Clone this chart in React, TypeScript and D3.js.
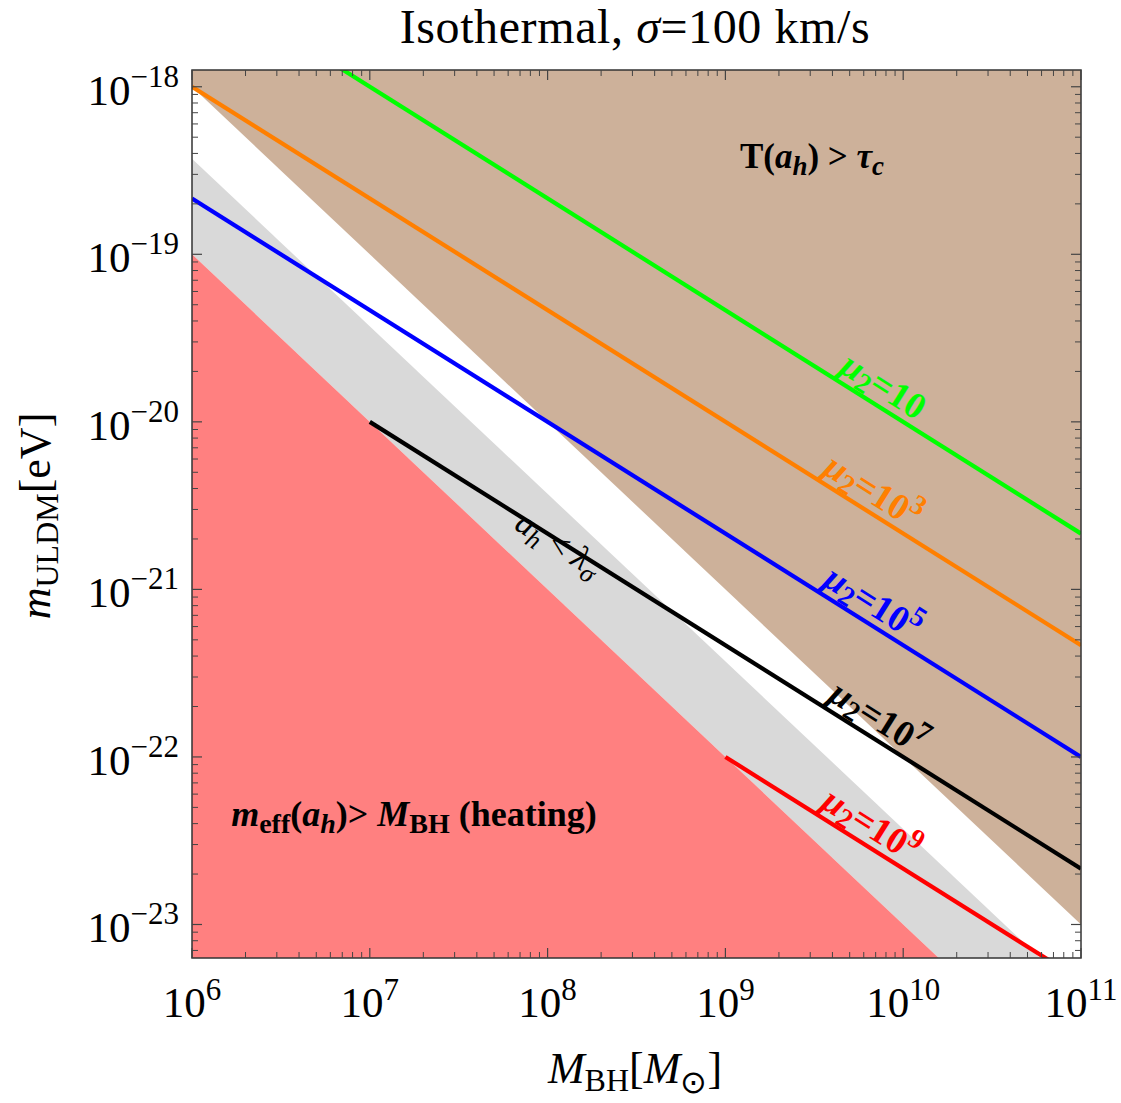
import React from "react";
import * as d3 from "d3";

// ---- data ----
const xDomain = [1e6, 1e11];
const yDomainLog = [-23.2, -17.9];
const xMajorExp = [6, 7, 8, 9, 10, 11];
const yMajorExp = [-18, -19, -20, -21, -22, -23];

// mu2 lines: exponent of mu2, colour, start (M, log10 m), end at M=1e11 (log10 m)
const muExp = [1, 3, 5, 7, 9];
const lineColors = ["#00ff00", "#ff7f00", "#0000ff", "#000000", "#ff0000"];
const lineStartM = [1e6, 1e6, 1e6, 1e7, 1e9];
const lineStartLogm = [-17.333, -18.0, -18.667, -20.0, -22.0];
const lineEndM = [1e11, 1e11, 1e11, 1e11, 1e11];
const lineEndLogm = [-20.667, -21.333, -22.0, -22.667, -23.333];
const labelLogM = [9.83, 9.77, 9.77, 9.8, 9.76];

// region boundaries (log10 m at M=1e6 and M=1e11)
const brownEdge = [-18.0, -23.0];
const grayEdge = [-18.43, -23.43];
const pinkEdge = [-19.0, -24.0];

const W = 1121, H = 1103;
const L = 192, R = 1081, T = 70, B = 958;
const FONT = "'Liberation Serif', 'Times New Roman', serif";

export default function App() {
  const x = d3.scaleLog().domain(xDomain).range([L, R]);
  const y = d3.scaleLog().domain(yDomainLog.map((v) => Math.pow(10, v))).range([B, T]);
  const p = (M: number, lm: number) => [x(M), y(Math.pow(10, lm))] as [number, number];
  const line = d3.line<[number, number]>();

  const botLm = -30;
  const brownPoly = [p(1e6, brownEdge[0]), p(1e11, brownEdge[1]), p(1e11, -10), p(1e6, -10)];
  const grayPoly = [p(1e6, grayEdge[0]), p(1e11, grayEdge[1]), p(1e11, pinkEdge[1]), p(1e6, pinkEdge[0])];
  const pinkPoly = [p(1e6, pinkEdge[0]), p(1e11, pinkEdge[1]), p(1e11, botLm), p(1e6, botLm)];

  const minor: { M: number }[] = [];
  for (let e = 6; e < 11; e++) for (let k = 2; k <= 9; k++) minor.push({ M: k * Math.pow(10, e) });
  const minorY: number[] = [];
  for (let e = -24; e < -17; e++) for (let k = 2; k <= 9; k++) {
    const v = k * Math.pow(10, e);
    const lv = Math.log10(v);
    if (lv > yDomainLog[0] && lv < yDomainLog[1]) minorY.push(v);
  }

  const angleOf = (i: number) => {
    const a = p(lineStartM[i], lineStartLogm[i]);
    const b = p(lineEndM[i], lineEndLogm[i]);
    return (Math.atan2(b[1] - a[1], b[0] - a[0]) * 180) / Math.PI;
  };
  const lmAt = (i: number, lM: number) => {
    const l0 = Math.log10(lineStartM[i]), l1 = Math.log10(lineEndM[i]);
    return lineStartLogm[i] + ((lM - l0) / (l1 - l0)) * (lineEndLogm[i] - lineStartLogm[i]);
  };

  const majT = 10, minT = 6;
  const tickStroke = "#444";

  return (
    <svg width={W} height={H} style={{ display: "block", position: "absolute", left: 0, top: 0 }} fontFamily={FONT}>
      <rect x={0} y={0} width={W} height={H} fill="white" />
      <defs>
        <clipPath id="plotclip">
          <rect x={L} y={T} width={R - L} height={B - T} />
        </clipPath>
      </defs>
      <g clipPath="url(#plotclip)">
        <path d={line(brownPoly as any)! + "Z"} fill="#cdb19a" />
        <path d={line(grayPoly as any)! + "Z"} fill="#d9d9d9" />
        <path d={line(pinkPoly as any)! + "Z"} fill="#ff8080" />
        {muExp.map((m, i) => (
          <path
            key={m}
            d={line([p(lineStartM[i], lineStartLogm[i]), p(lineEndM[i], lineEndLogm[i])])!}
            stroke={lineColors[i]}
            strokeWidth={4.2}
            fill="none"
          />
        ))}
      </g>

      {/* frame */}
      <rect x={L} y={T} width={R - L} height={B - T} fill="none" stroke="#333" strokeWidth={1.5} />

      {/* ticks */}
      {xMajorExp.map((e) => {
        const xx = x(Math.pow(10, e));
        return (
          <g key={"xm" + e}>
            <line x1={xx} x2={xx} y1={B} y2={B - majT} stroke={tickStroke} strokeWidth={1.2} />
            <line x1={xx} x2={xx} y1={T} y2={T + majT} stroke={tickStroke} strokeWidth={1.2} />
          </g>
        );
      })}
      {minor.map((d, i) => {
        const xx = x(d.M);
        return (
          <g key={"xn" + i}>
            <line x1={xx} x2={xx} y1={B} y2={B - minT} stroke={tickStroke} strokeWidth={1} />
            <line x1={xx} x2={xx} y1={T} y2={T + minT} stroke={tickStroke} strokeWidth={1} />
          </g>
        );
      })}
      {yMajorExp.map((e) => {
        const yy = y(Math.pow(10, e));
        return (
          <g key={"ym" + e}>
            <line x1={L} x2={L + majT} y1={yy} y2={yy} stroke={tickStroke} strokeWidth={1.2} />
            <line x1={R} x2={R - majT} y1={yy} y2={yy} stroke={tickStroke} strokeWidth={1.2} />
          </g>
        );
      })}
      {minorY.map((v, i) => {
        const yy = y(v);
        return (
          <g key={"yn" + i}>
            <line x1={L} x2={L + minT} y1={yy} y2={yy} stroke={tickStroke} strokeWidth={1} />
            <line x1={R} x2={R - minT} y1={yy} y2={yy} stroke={tickStroke} strokeWidth={1} />
          </g>
        );
      })}

      {/* tick labels */}
      {xMajorExp.map((e) => (
        <text key={"xl" + e} x={x(Math.pow(10, e))} y={1017} textAnchor="middle" fontSize={43}>
          10<tspan dy={-17} fontSize={31}>{e}</tspan>
        </text>
      ))}
      {yMajorExp.map((e) => (
        <text key={"yl" + e} x={179} y={y(Math.pow(10, e)) + 18} textAnchor="end" fontSize={43}>
          10<tspan dy={-18} fontSize={31}>{"\u2212" + Math.abs(e)}</tspan>
        </text>
      ))}

      {/* title */}
      <text x={635} y={43} textAnchor="middle" fontSize={48} letterSpacing={0.6}>
        Isothermal, <tspan fontStyle="italic">σ</tspan>=100 km/s
      </text>

      {/* axis titles */}
      <text x={635} y={1083} textAnchor="middle" fontSize={44}>
        <tspan fontStyle="italic">M</tspan>
        <tspan dy={8} fontSize={32}>BH</tspan>
        <tspan dy={-8}>[</tspan>
        <tspan fontStyle="italic">M</tspan>
        <tspan dy={10} fontSize={32}>⊙</tspan>
        <tspan dy={-10}>]</tspan>
      </text>
      <text transform="translate(50,516) rotate(-90)" textAnchor="middle" fontSize={44}>
        <tspan fontStyle="italic">m</tspan>
        <tspan dy={8} fontSize={32}>ULDM</tspan>
        <tspan dy={-8}>[eV]</tspan>
      </text>

      {/* mu2 line labels */}
      {muExp.map((m, i) => {
        const [px, py] = p(Math.pow(10, labelLogM[i]), lmAt(i, labelLogM[i]));
        return (
          <text
            key={"lab" + m}
            transform={`translate(${px},${py}) rotate(${angleOf(i)})`}
            y={-8}
            textAnchor="middle"
            fontSize={37}
            fontWeight="bold"
            fill={lineColors[i]}
          >
            <tspan fontStyle="italic">μ</tspan>
            <tspan dy={6} fontSize={28}>2</tspan>
            <tspan dy={-6}>=10</tspan>
            {m > 1 ? <tspan dy={-15} fontSize={28}>{m}</tspan> : null}
          </text>
        );
      })}

      {/* region labels */}
      <text x={812} y={168} textAnchor="middle" fontSize={35} fontWeight="bold">
        T(<tspan fontStyle="italic">a</tspan>
        <tspan dy={7} fontSize={27} fontStyle="italic">h</tspan>
        <tspan dy={-7}>) &gt; </tspan>
        <tspan fontStyle="italic">τ</tspan>
        <tspan dy={7} fontSize={27} fontStyle="italic">c</tspan>
      </text>
      <text x={414} y={826} textAnchor="middle" fontSize={36} fontWeight="bold">
        <tspan fontStyle="italic">m</tspan>
        <tspan dy={7} fontSize={28}>eff</tspan>
        <tspan dy={-7}>(</tspan>
        <tspan fontStyle="italic">a</tspan>
        <tspan dy={7} fontSize={28} fontStyle="italic">h</tspan>
        <tspan dy={-7}>)&gt; </tspan>
        <tspan fontStyle="italic">M</tspan>
        <tspan dy={7} fontSize={28}>BH</tspan>
        <tspan dy={-7}> (heating)</tspan>
      </text>
      {(() => {
        const lM = 8.07;
        const [px, py] = p(Math.pow(10, lM), lmAt(3, lM));
        return (
          <text transform={`translate(${px},${py}) rotate(${angleOf(3)})`} y={14} textAnchor="middle" fontSize={34}>
            <tspan fontStyle="italic">a</tspan>
            <tspan dy={7} fontSize={26} fontStyle="italic">h</tspan>
            <tspan dy={-7}> &lt; </tspan>
            <tspan fontStyle="italic">λ</tspan>
            <tspan dy={7} fontSize={26} fontStyle="italic">σ</tspan>
          </text>
        );
      })()}
    </svg>
  );
}
